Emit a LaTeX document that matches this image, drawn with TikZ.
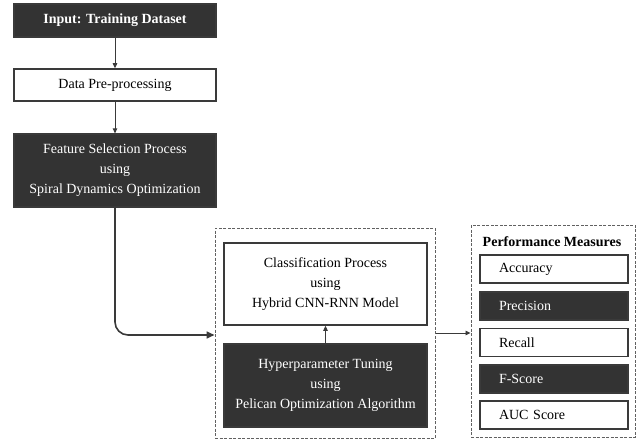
\documentclass[tikz,border=0pt]{standalone}
\usepackage{fontspec}
\setmainfont{Liberation Serif}
\usetikzlibrary{arrows.meta}
\definecolor{dk}{HTML}{333333}
\definecolor{ln}{HTML}{3A3A3A}
\begin{document}
\begin{tikzpicture}[x=1pt,y=-1pt,
  darkbox/.style={draw=ln,line width=1.2pt,fill=dk,text=white,align=center,font=\fontsize{14}{20}\selectfont},
  whitebox/.style={draw=ln,line width=1.6pt,fill=white,text=black,align=center,font=\fontsize{14}{20}\selectfont},
  dashbox/.style={draw=ln!80,dashed,dash pattern=on 3pt off 1.5pt,line width=1pt},
  arr/.style={draw=ln,line width=0.9pt,-{Triangle[length=5pt,width=4.5pt]}},
  bigarr/.style={draw=ln,line width=1.6pt,-{Triangle[length=8pt,width=7pt]}}]
\useasboundingbox (0,0) rectangle (640,441);
% left column
\node[darkbox,minimum width=202pt,minimum height=33pt,font=\fontsize{14}{20}\selectfont\bfseries] (inp) at (115,20.5) {Input: Training Dataset};
\node[whitebox,minimum width=202pt,minimum height=32pt] (pre) at (115,85) {Data Pre-processing};
\node[darkbox,minimum width=202pt,minimum height=73pt] (fs) at (115,170.5) {Feature Selection Process\\using\\Spiral Dynamics Optimization};
\draw[arr] (inp) -- (pre);
\draw[arr] (pre) -- (fs);
% dashed box 1
\node[dashbox,minimum width=220pt,minimum height=210pt] (g1) at (325,333) {};
\node[whitebox,minimum width=203pt,minimum height=82pt] (cls) at (325.5,284) {Classification Process\\using\\Hybrid CNN-RNN Model};
\node[darkbox,minimum width=203pt,minimum height=83pt] (hyp) at (325.5,385.5) {Hyperparameter Tuning\\using\\Pelican Optimization Algorithm};
\draw[arr] (hyp) -- (cls);
\draw[bigarr,rounded corners=13pt] (fs.south) |- (g1.west |- 0,335);
% dashed box 2
\node[dashbox,minimum width=164pt,minimum height=212pt] (g2) at (553,331) {};
\draw[arr] (g1.east |- 0,333) -- (g2.west |- 0,333);
\node[font=\fontsize{14}{20}\selectfont\bfseries] (pm) at (552,242) {Performance Measures};
\foreach \n/\t/\y/\s in {acc/Accuracy/269/whitebox,pre2/Precision/306/darkbox,rec/Recall/342.5/whitebox,fsc/F-Score/379/darkbox,auc/AUC Score/415/whitebox}{
  \node[\s,minimum height=28pt,text width=110pt,align=left,inner xsep=19pt] (\n) at (554,\y) {\t};
}
\end{tikzpicture}
\end{document}
